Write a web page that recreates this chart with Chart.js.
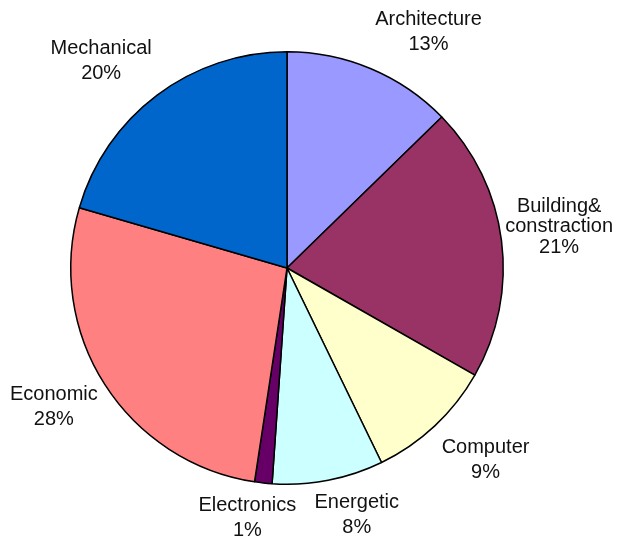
<!DOCTYPE html>
<html>
<head>
<meta charset="utf-8">
<script src="https://cdn.jsdelivr.net/npm/chart.js"></script>
<style>
  html, body { margin: 0; padding: 0; background: #fff; }
  #wrap { width: 617px; height: 542px; }
</style>
</head>
<body>
<div id="wrap"><canvas id="myChart" width="617" height="542"></canvas></div>
<script>
// slices, clockwise from the top
const categories = ['Architecture', 'Building&\nconstraction', 'Computer', 'Energetic', 'Electronics', 'Economic', 'Mechanical'];
const shares = [12.7, 20.55, 9.55, 8.3, 1.3, 27.1, 20.5];   // slice sizes as drawn
const percentLabels = ['13%', '21%', '9%', '8%', '1%', '28%', '20%'];

const sliceColors = ['#9999ff', '#993366', '#ffffcc', '#ccffff', '#660066', '#ff8080', '#0066cc'];
// small nudges so the labels sit where the original put them
const labelNudge = [[40, 5], [13, -8], [20, 1], [20, -9], [-11, -10], [-13, -2], [-29, 2]];

const outsideLabels = {
  id: 'outsideLabels',
  afterDatasetsDraw(chart) {
    const ctx = chart.ctx;
    const arcs = chart.getDatasetMeta(0).data;
    ctx.save();
    ctx.font = '20px "Liberation Sans", Arial, sans-serif';
    ctx.fillStyle = '#111';
    ctx.textAlign = 'center';
    ctx.textBaseline = 'middle';
    arcs.forEach((arc, i) => {
      const p = arc.getProps(['x', 'y', 'startAngle', 'endAngle', 'outerRadius'], true);
      const mid = (p.startAngle + p.endAngle) / 2;
      const d = p.outerRadius + 45;
      const cx = p.x + Math.cos(mid) * d + labelNudge[i][0];
      const cy = p.y + Math.sin(mid) * d + labelNudge[i][1];
      const lines = categories[i].split('\n').concat([percentLabels[i]]);
      const lh = lines.length > 2 ? 20.5 : 25;
      const top = cy - (lines.length - 1) * lh / 2;
      lines.forEach((t, k) => ctx.fillText(t, cx, top + k * lh));
    });
    ctx.restore();
  }
};

new Chart(document.getElementById('myChart'), {
  type: 'pie',
  data: {
    labels: categories,
    datasets: [{
      data: shares,
      backgroundColor: sliceColors,
      borderColor: '#000',
      borderWidth: 1.5
    }]
  },
  options: {
    responsive: false,
    animation: false,
    layout: { padding: { left: 70, right: 113, top: 51, bottom: 57 } },
    plugins: {
      legend: { display: false },
      tooltip: { enabled: false }
    }
  },
  plugins: [outsideLabels]
});
</script>
</body>
</html>
